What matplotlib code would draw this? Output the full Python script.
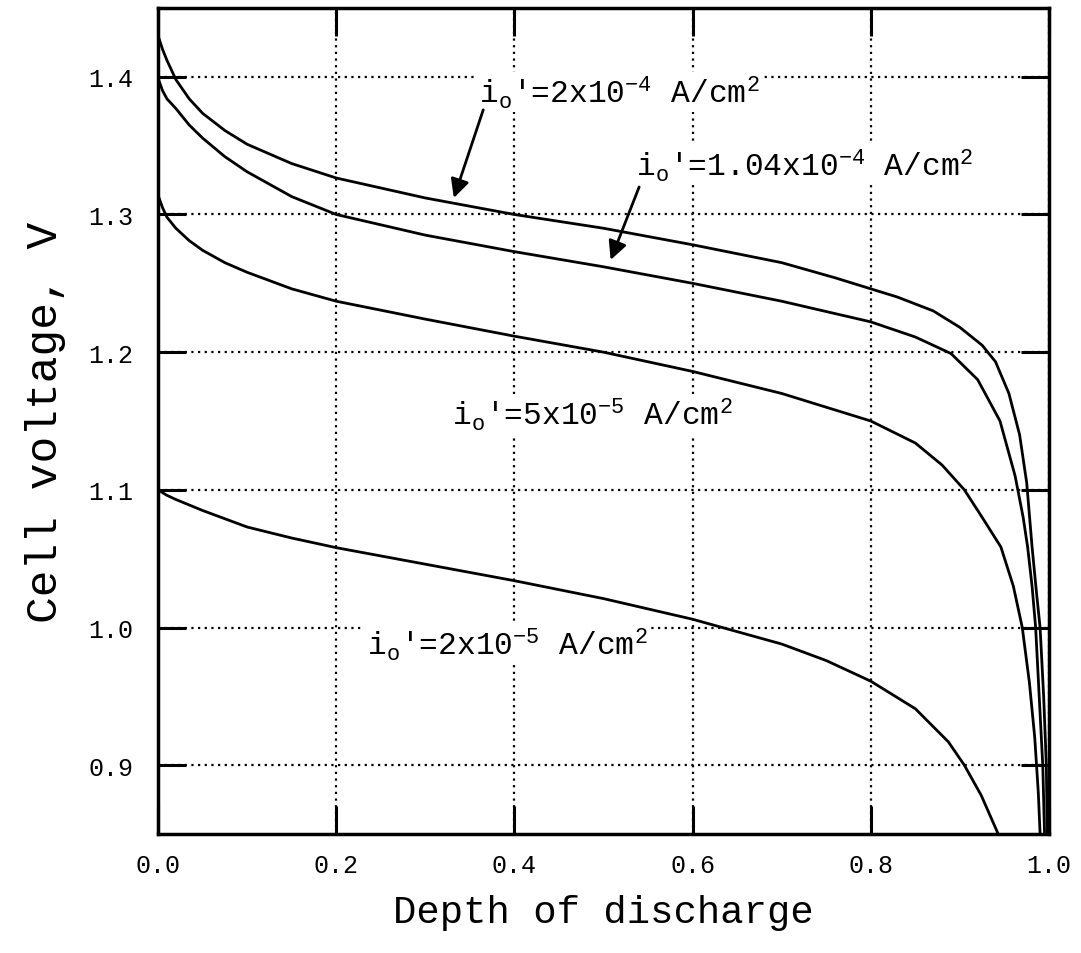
import matplotlib
matplotlib.use("Agg")
import matplotlib.pyplot as plt

plt.rcParams['font.family'] = ['Liberation Mono', 'DejaVu Sans']
plt.rcParams['mathtext.fontset'] = 'custom'
plt.rcParams['mathtext.rm'] = 'Liberation Mono'
plt.rcParams['mathtext.it'] = 'Liberation Mono'
plt.rcParams['mathtext.default'] = 'rm'

# ---- data ----
dod_1 = [0.0, 0.005, 0.01, 0.02, 0.035, 0.05, 0.075, 0.1, 0.15, 0.2, 0.3, 0.4, 0.5, 0.6, 0.7,
         0.76, 0.83, 0.87, 0.9, 0.925, 0.94, 0.955, 0.967, 0.975, 0.981, 0.986, 0.99, 0.994,
         0.997, 0.998]
v_1 = [1.430, 1.420, 1.412, 1.398, 1.384, 1.3735, 1.361, 1.351, 1.337, 1.3265, 1.312, 1.300, 1.290,
       1.278, 1.265, 1.254, 1.240, 1.230, 1.218, 1.205, 1.193, 1.170, 1.140, 1.105, 1.0585, 1.025,
       1.000, 0.950, 0.900, 0.850]

dod_2 = [0.0, 0.005, 0.01, 0.02, 0.035, 0.05, 0.075, 0.1, 0.15, 0.2, 0.3, 0.4, 0.5, 0.6, 0.7,
         0.8, 0.85, 0.89, 0.92, 0.945, 0.962, 0.971, 0.976, 0.981, 0.985, 0.989, 0.993, 0.995]
v_2 = [1.399, 1.390, 1.384, 1.377, 1.365, 1.3555, 1.342, 1.331, 1.313, 1.300, 1.285, 1.273, 1.262,
       1.250, 1.237, 1.222, 1.211, 1.199, 1.180, 1.150, 1.110, 1.080, 1.0585, 1.030, 1.000, 0.950,
       0.900, 0.850]

dod_3 = [0.0, 0.005, 0.01, 0.02, 0.035, 0.05, 0.075, 0.1, 0.15, 0.2, 0.3, 0.4, 0.5, 0.6, 0.7,
         0.8, 0.85, 0.88, 0.905, 0.925, 0.946, 0.96, 0.97, 0.978, 0.984, 0.988, 0.99]
v_3 = [1.314, 1.305, 1.298, 1.290, 1.281, 1.274, 1.265, 1.258, 1.246, 1.237, 1.224, 1.2116, 1.200,
       1.186, 1.170, 1.150, 1.134, 1.118, 1.100, 1.080, 1.0585, 1.030, 1.000, 0.960, 0.920, 0.880,
       0.850]

dod_4 = [0.0, 0.01, 0.02, 0.035, 0.05, 0.075, 0.1, 0.15, 0.2, 0.3, 0.4, 0.5, 0.6, 0.7, 0.75,
         0.8, 0.85, 0.887, 0.905, 0.924, 0.943]
v_4 = [1.100, 1.096, 1.093, 1.089, 1.085, 1.079, 1.073, 1.065, 1.058, 1.046, 1.034, 1.021, 1.006,
       0.988, 0.976, 0.961, 0.941, 0.917, 0.900, 0.878, 0.850]

labels = [r"i$_{\mathrm{o}}$'=2x10$^{\mathrm{-4}}$ A/cm$^{\mathrm{2}}$",
          r"i$_{\mathrm{o}}$'=1.04x10$^{\mathrm{-4}}$ A/cm$^{\mathrm{2}}$",
          r"i$_{\mathrm{o}}$'=5x10$^{\mathrm{-5}}$ A/cm$^{\mathrm{2}}$",
          r"i$_{\mathrm{o}}$'=2x10$^{\mathrm{-5}}$ A/cm$^{\mathrm{2}}$"]

x_ticks = [0.0, 0.2, 0.4, 0.6, 0.8, 1.0]
y_ticks = [0.9, 1.0, 1.1, 1.2, 1.3, 1.4]

fig = plt.figure(figsize=(10.81, 9.54), dpi=100)
ax = fig.add_axes([0.1462, 0.1247, 0.8242, 0.8659])

for xs, ys in [(dod_1, v_1), (dod_2, v_2), (dod_3, v_3), (dod_4, v_4)]:
    ax.plot(xs, ys, color='black', lw=2.0, zorder=3)

ax.set_xlim(0.0, 1.0)
ax.set_ylim(0.85, 1.45)
ax.set_xticks(x_ticks)
ax.set_yticks(y_ticks)
ax.set_xticklabels([f"{t:.1f}" for t in x_ticks])
ax.set_yticklabels([f"{t:.1f}" for t in y_ticks])
ax.tick_params(direction='in', length=20, width=2.2, top=True, right=True,
               labelsize=18, pad=14)
ax.tick_params(axis='y', pad=18)
for s in ax.spines.values():
    s.set_linewidth(2.5)
ax.grid(True, color='black', linestyle=(0, (1, 2.0)), linewidth=1.6, zorder=1)

ax.set_xlabel("Depth of discharge", fontsize=28, labelpad=12)
ax.set_ylabel("Cell voltage, V", fontsize=32, labelpad=16)

bbox = dict(facecolor='white', edgecolor='none', pad=1.5)
fs = 22.5
ax.text(0.360, 1.389, labels[0], fontsize=fs, va='center', ha='left', bbox=bbox, zorder=4)
ax.text(0.536, 1.336, labels[1], fontsize=fs, va='center', ha='left', bbox=bbox, zorder=4)
ax.text(0.330, 1.155, labels[2], fontsize=fs, va='center', ha='left', bbox=bbox, zorder=4)
ax.text(0.234, 0.988, labels[3], fontsize=fs, va='center', ha='left', bbox=bbox, zorder=4)

arrow = dict(arrowstyle='-|>', color='black', lw=2.0, mutation_scale=28,
             shrinkA=0, shrinkB=0)
ax.annotate("", xy=(0.332, 1.312), xytext=(0.365, 1.376), arrowprops=arrow, zorder=5)
ax.annotate("", xy=(0.508, 1.267), xytext=(0.540, 1.320), arrowprops=arrow, zorder=5)

fig.savefig("out.png", dpi=100)
